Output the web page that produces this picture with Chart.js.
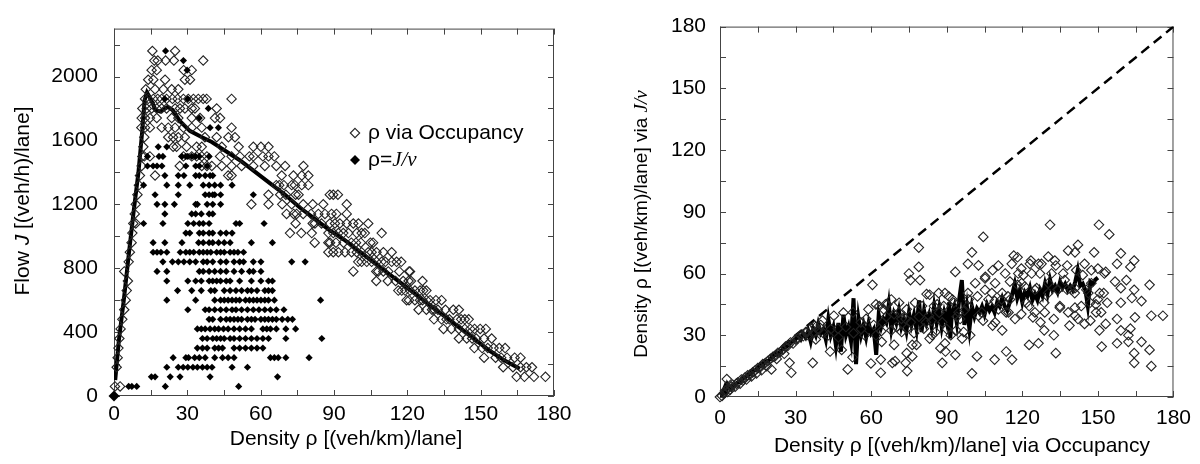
<!DOCTYPE html>
<html>
<head>
<meta charset="utf-8">
<script src="https://cdn.jsdelivr.net/npm/chart.js@4.4.0/dist/chart.umd.min.js"></script>
<style>
  html, body { margin: 0; padding: 0; background: #fff; }
  #wrap { position: relative; width: 1200px; height: 464px; }
  canvas { position: absolute; top: 0; }
  #flowChart { left: 0; }
  #densChart { left: 600px; }
</style>
</head>
<body>
<div id="wrap">
  <canvas id="flowChart" width="600" height="464"></canvas>
  <canvas id="densChart" width="600" height="464"></canvas>
</div>
<script>
// tick labels
const densityTicks = [0, 30, 60, 90, 120, 150, 180];
const flowTicks = [0, 400, 800, 1200, 1600, 2000];

// left panel: flow rows (veh/h/lane) with the densities found on each row
const occRows = [
  [2160, [15.7, 25]],
  [2100, [16.5, 17.9, 21.1, 24.5, 36.5]],
  [2040, [15.4, 17.5, 28.5, 31.8]],
  [1980, [14, 16.1, 20.9, 29, 31.1]],
  [1920, [13, 16.8, 20.2, 23.6, 26.3]],
  [1860, [12.7, 14, 16.1, 17.9, 19.5, 21.5, 23.9, 26, 28.4, 30.4, 32.5, 34.5, 36.5, 37.9, 48.1]],
  [1800, [11.6, 13.4, 15.4, 17.5, 19.5, 21.5, 25, 27, 29, 31.8, 33.1, 42]],
  [1740, [11.3, 12.7, 14.7, 17.5, 23.6, 26.3, 31.8, 35.2, 41.3, 43.4]],
  [1680, [11.2, 12.7, 14.7, 19.5, 22.2, 25, 28.4, 31.8, 35.9, 48.1]],
  [1620, [12.4, 22.2, 24.2, 26.3, 29, 37.2, 42, 46.8, 49.5]],
  [1560, [12, 24.2, 25.6, 29.7, 33.8, 35.9, 44.1, 51, 57, 60.1, 63.2]],
  [1500, [11.6, 12.4, 14.7, 28.4, 31.8, 33.8, 35.9, 38, 43.4, 48.1, 51.5, 55.4, 57, 60.9, 63.2, 65.6]],
  [1440, [11.3, 26.9, 35.9, 38, 40, 44.1, 48.1, 52.2, 57, 61.7, 66.4, 70, 77.5]],
  [1380, [10.6, 16.8, 46.7, 48.1, 68.6, 73.4, 76.8, 79.5]],
  [1320, [10.2, 66.4, 67.6, 69.5, 72.7, 74, 76.8, 79.5]],
  [1260, [9.6, 63.2, 68, 70.3, 74.3, 75.5, 88.3, 89.7, 91.6]],
  [1200, [8.9, 56.2, 63.2, 68.8, 72.7, 77.4, 81.3, 85.6, 95.2]],
  [1140, [8.5, 70.6, 73.5, 74.7, 77.4, 80.6, 83.6, 86.3, 89, 91, 95.2]],
  [1080, [7.9, 8.9, 74.3, 81.3, 82.2, 84.9, 88.3, 90.4, 92.4, 95.2, 97.9, 100, 104]],
  [1020, [7.5, 72, 76.6, 80.9, 87.7, 89.7, 91.8, 93.8, 95.9, 99.3, 101.3, 102.6, 109.5]],
  [960, [7.2, 82.1, 87.7, 88.4, 90.8, 93.9, 97.1, 99, 101, 104.9, 106]],
  [900, [6.5, 87.7, 89.7, 91.8, 94.5, 97.2, 99.3, 101.3, 104, 105.4, 107.4, 110.2, 113.6]],
  [840, [6, 99.9, 101.3, 103.4, 105.4, 107.4, 109.5, 111, 113.6, 115.6, 117.5]],
  [780, [4.2, 97.9, 107.3, 108.1, 110.2, 112.2, 116.7, 120.7, 121.1]],
  [720, [5.7, 107.3, 112, 115.2, 118.3, 120.5, 121.5, 126.2]],
  [660, [5.2, 116.3, 117.7, 119.1, 121.1, 123.1, 125.2, 126.5, 127.8]],
  [600, [4.8, 119.7, 120.7, 123.1, 125.2, 126.2, 127.9, 129.3, 131.7, 134]],
  [540, [4.2, 124.6, 127.8, 130.1, 131, 132.5, 135.6, 138.8, 141.1]],
  [480, [3.4, 130.9, 134, 136, 137.2, 140.3, 142, 143.5, 145.1]],
  [420, [2.7, 134.8, 138, 141.1, 143.5, 145.8, 147.5, 149.8, 152.1]],
  [360, [2.2, 141.1, 144.3, 146.5, 148.2, 151.4, 154.5]],
  [300, [1.8, 147.4, 150.6, 152.9, 155.3, 157.6, 160]],
  [240, [1.5, 151.4, 156.1, 158.4, 160.8, 163.9, 166.3]],
  [180, [1.1, 159.2, 163.2, 166.3, 168.7, 171]],
  [120, [164.7, 167.9, 171.8, 176.5]],
  [60, [0.4, 2.5]]
];

const jvRows = [
  [2160, [21.1]],
  [2100, [28.4]],
  [2040, [29.9]],
  [1860, [20.8, 30.2]],
  [1800, [38.6]],
  [1740, [34.9]],
  [1680, [39.3, 42.7]],
  [1560, [18.1, 21.6]],
  [1500, [13.7, 18.4, 20, 27.8, 29.4, 30.2, 31.8, 33.4, 34.9, 38.9]],
  [1440, [13.7, 16, 17.6, 19.6, 29.4, 33.4, 34.9, 38.1]],
  [1380, [20.8, 26.3, 28.6, 33.4, 34.9, 37.3, 39.3, 40.4]],
  [1320, [12.1, 21.6, 26.3, 31, 36.5, 38.9, 41.2, 43.6, 48.3]],
  [1260, [16.8, 26.3, 37.3, 38.9, 40.4, 41.2, 43.6, 57]],
  [1200, [17.6, 20.8, 24.7, 33.4, 34.1, 38.1, 40.4, 43.6]],
  [1140, [20.8, 31.8, 33.4, 35.7, 38.9, 40.4]],
  [1080, [12.1, 20, 30.2, 32.6, 34.9, 36.5, 38.9, 49.9, 51.4, 61.4]],
  [1020, [29.4, 31, 34.9, 36.5, 38.9, 40.4, 43.6, 45.9, 48.3]],
  [960, [16, 20.8, 27.8, 34.6, 36.5, 38.9, 40.4, 42.8, 45.1, 47.5, 56.2, 64.8]],
  [900, [16, 17.6, 19.2, 21.6, 27.1, 29.4, 31, 32.6, 34.9, 36.5, 38.1, 39.6, 42, 43.6, 45.1, 47.5, 49.1, 50.7, 53]],
  [840, [20, 23.9, 26.3, 28.6, 31, 33.4, 36.5, 38.1, 40.4, 43.6, 45.9, 49.1, 51.4, 53, 57, 60.1, 72.7, 78.2]],
  [780, [17.6, 21.6, 34.9, 36.5, 38.9, 41.2, 43.6, 45.9, 49.1, 52.2, 55.4, 57, 60.1]],
  [720, [21.6, 30.2, 33.4, 35.7, 38.9, 40.4, 42, 43.6, 45.9, 47.5, 51.4, 56.2, 60.1, 63.2, 64.8]],
  [660, [26, 31.8, 35.7, 39.6, 41.2, 45.1, 47.5, 49.9, 52.2, 54.6, 56.2, 58.5, 61.7, 63.2, 64.8]],
  [600, [21.6, 33.4, 41.2, 43.6, 45.1, 46.7, 48.3, 49.9, 51.4, 53.8, 55.4, 57, 58.5, 60.1, 61.7, 63.2, 65.6, 84.5]],
  [540, [30.2, 37.3, 38.9, 41.2, 43.6, 45.9, 48.3, 49.9, 52.2, 54.6, 57, 59.3, 61.7, 64, 66.4, 69.5]],
  [480, [38.9, 40.4, 43.6, 45.9, 47.5, 49.1, 50.7, 52.2, 54.6, 56.2, 57.7, 60.1, 61.7, 63.2, 64.8, 66.4, 68.8, 71.1, 73]],
  [420, [34.1, 35.7, 37.3, 39.3, 41.2, 42.8, 44.8, 46.7, 49.1, 51.4, 53.8, 56.2, 60.9, 62.5, 64, 66.4, 70.3, 74.3]],
  [360, [36.2, 38.1, 40.4, 42, 43.6, 45.1, 47.5, 49.1, 51.4, 53.8, 56.2, 58.5, 60.9, 63.2, 70.3, 85]],
  [300, [34.1, 36.2, 38.1, 41.2, 42.8, 44.4, 49.1, 51.4, 53.8, 56.2, 58.5, 60.9]],
  [240, [24.2, 29.4, 30.5, 33, 34.9, 37.3, 41.2, 44.4, 46.7, 49.1, 64, 65.6, 67.2, 70.3, 79.8]],
  [180, [21.6, 26.3, 28.3, 30.2, 32.3, 34.1, 36.2, 38.1, 40.1, 48.3, 54.6]],
  [120, [15.3, 16.8, 23, 27, 39.3, 66.9]],
  [60, [6, 7.3, 9.3, 21, 51]]
];

const originPoint = [[0, 0]];

// averaged flow-density curve
const fdCurve = [
  [0.5, 100], [2, 350], [4, 600], [6, 880], [8, 1150], [10, 1400], [11.5, 1650], [12.5, 1850],
  [13.5, 1900], [15, 1860], [17, 1790], [19, 1780], [22, 1810], [24, 1790], [27, 1720], [31, 1660],
  [36, 1620], [40, 1590], [44, 1550], [48, 1510], [52, 1470], [58, 1400], [64, 1330], [70, 1260],
  [76, 1180], [82, 1110], [88, 1040], [94, 980], [100, 910], [106, 840], [112, 770], [118, 700],
  [124, 630], [130, 560], [136, 490], [142, 420], [148, 350], [154, 280], [160, 220], [166, 170]
];

// right panel: density via occupancy vs density via J/v
const occVsJv = [
  [0, 0], [0.8, 0.5], [1.5, 1.8], [2, 3], [2.7, 8.7], [3, 2.5], [3.5, 4.5], [4, 3.5], [4.5, 5], [5, 6],
  [6, 5], [6.5, 6.5], [7, 7], [8, 6.5], [8.5, 8.5], [9, 8], [10, 9.5], [10.5, 8.5], [11, 10.5], [12, 11],
  [12.5, 10], [13, 12], [14, 13], [14.5, 11.5], [15, 14], [16, 14.5], [16.5, 13], [17, 16], [18, 16.5],
  [18.5, 15], [19, 17.5], [20, 18.5], [20.4, 13.4], [21, 19.5], [22, 20], [22.5, 18.5], [23, 21.5],
  [24, 22], [25, 23], [25.5, 21], [26, 24.5], [27, 25], [27.6, 16.6], [28.3, 11.8], [28, 26.5], [29, 26],
  [30, 28], [31, 28.5], [32, 30], [33, 29.5], [34, 31.5], [35, 30], [36, 33.5], [37, 31], [38, 34],
  [39, 32.5], [40, 35],
  [36.8, 16.6], [40.7, 37.1], [37.6, 34.7], [34.6, 31.6], [43, 30], [45.2, 39.5], [46.8, 33.2], [49, 41],
  [43.7, 22.1], [48.3, 22.9], [50.7, 13.4], [52.6, 19.3], [52.8, 41.1], [55.9, 36.3], [57.4, 30],
  [58.9, 42.6], [59.9, 16.3], [60.5, 54.5], [61.9, 45], [61.9, 30], [63.8, 11.8], [63.8, 18.2],
  [64.2, 26.8], [65, 42.6], [65.7, 45], [68, 47.4], [68, 32.4], [68.4, 16.6], [69.1, 25.3], [69.5, 17.4],
  [71.1, 45.8], [73.7, 16.6], [74.1, 42.6], [74.1, 33.2], [74.1, 21.3], [74.3, 12.6], [75, 60],
  [75.6, 56.8], [76.3, 19.7], [78, 25.3], [78.9, 72.6], [78.9, 63.2], [79.4, 56.8], [80.2, 44.2],
  [81.7, 36.3], [82, 50], [83.2, 28.4], [83.2, 49.7], [85.5, 31.6], [86.2, 45], [87.5, 23.7],
  [88.2, 16.6], [89.3, 50.5], [89.3, 26.1], [89.5, 22.1], [91.6, 30], [92.3, 47.4], [93.4, 20.5],
  [93.4, 60.8], [93.8, 32.4], [95.3, 37.9], [96.1, 28.4], [98.4, 64.7], [98.4, 50.5], [98.4, 44.2],
  [100, 11.5], [100, 70.3], [102, 19.7], [102.2, 48.9], [102.6, 64], [104.5, 77.8], [104.4, 37.1],
  [105.2, 57.6], [105.2, 52.1], [108.2, 61.6], [108.2, 34.7], [109, 18.2], [109, 46.6], [110.5, 63.9],
  [112, 50.5], [112, 32.4], [113.6, 41.1], [113.6, 22.1], [114.3, 48.9], [115.1, 56.1], [115.9, 18.2],
  [116.6, 68.7], [118.1, 67.9], [118.1, 54.5], [119.6, 62.4], [119.6, 40.3], [120.4, 59.2], [122.7, 44.2],
  [122.7, 25.3], [123.4, 66.3], [124.2, 38.7], [125.7, 52.9], [126.4, 64.7], [126.4, 26.1], [127.2, 36.3],
  [128.7, 45.8], [128.7, 32.4], [130.3, 68.2], [130.3, 50.5], [131, 83.7], [132.5, 37.9], [132.5, 30],
  [133.3, 63.9], [133.3, 21.3], [133.9, 52.1], [134.9, 43.4], [137.8, 63.9], [137.8, 52.1], [138.7, 34.7],
  [140.9, 70.3], [140.9, 52.9], [140.9, 43.4], [141, 39.5], [142.1, 73.9], [144, 59.2], [144.7, 35.5],
  [146.2, 50.5], [146.9, 45.8], [147, 37.1], [148.5, 70.3], [149.2, 45], [150, 62.4], [150.4, 83.7],
  [150.6, 32.4], [151.5, 24.5], [152.3, 50.5], [153.1, 60.8], [153.1, 35.5], [153.7, 45.8], [154.5, 79],
  [156.8, 56.1], [157.6, 64.7], [157.6, 37.9], [157.6, 26.1], [159.1, 69.8], [159.1, 52.9], [159.1, 45.8],
  [159.1, 32.4], [161.3, 56.8], [162.1, 30], [162.1, 26.8], [162.9, 63.2], [162.9, 33.2], [163.5, 48.1],
  [164.4, 66.3], [164.4, 52.1], [164.4, 21.3], [164.4, 16.6], [164.7, 38.7], [167.3, 46.6], [167.3, 26.8],
  [170.5, 54.5], [170.5, 22.9], [171.2, 39.5], [171.2, 15], [175.8, 39.5],
  [63.2, 44.2], [71, 41], [72.1, 31.6], [75.7, 36.3], [76.3, 25.3], [82.9, 39.5], [84.2, 30], [86.8, 50.5],
  [88.8, 44.2], [92.8, 45.8], [99.3, 30], [102.6, 39.5], [105.3, 58.4], [107.9, 50.5], [109.2, 36.3],
  [111.8, 47.4], [114.5, 41.1], [115.8, 64.7], [118.4, 60], [121, 53.7], [123.7, 60], [125, 41.1],
  [127.6, 64.7], [131.6, 60], [134.2, 52.1], [136.8, 56.8], [138.2, 41.1], [140.8, 50.5], [142.1, 37.9],
  [144.7, 64.7], [147.4, 55.3], [150, 47.4], [151.3, 41.1],
  [64.5, 36.3], [66.4, 45], [69.1, 40.3], [73.7, 37.9], [77.4, 45.8], [80.9, 33.2], [84.9, 44.2],
  [88.2, 36.3], [90.8, 48.9], [94.7, 41.1], [96.7, 31.6], [98.7, 47.4], [101.3, 55.3], [103.9, 41.1],
  [106.6, 47.4], [109.2, 55.3], [110.5, 42.6], [113.2, 60], [115.1, 47.4], [117.1, 37.9], [119.7, 55.3],
  [121.7, 45.8], [123, 64.7], [125, 52.1], [127, 60], [128.9, 41.1], [130.3, 55.3], [132.9, 66.3],
  [134.9, 44.2], [136.2, 60], [138.2, 71.1], [139.5, 52.1], [141.4, 61.6], [143.4, 44.2], [145.4, 52.1],
  [147.4, 61.6], [149.3, 41.1], [150.7, 50.5], [152.6, 60],
  [38, 28], [41, 31], [44, 33], [47, 29], [50, 34], [53, 31], [56, 33], [58, 38], [61, 35], [64, 32],
  [66, 39], [70, 34], [72, 38], [77, 31], [79, 39], [84, 37], [87, 41], [90, 33], [94, 39], [97, 42]
];

// binned mean of J/v density against occupancy density
const meanCurve = [
  [0, 0], [1, 2], [2, 5], [2.5, 3], [3, 6], [4, 4], [5, 5.5], [6, 6], [7, 7], [8, 7.5], [9, 9], [10, 9.5],
  [11, 10.5], [12, 11], [13, 12.5], [14, 13], [15, 14], [16, 15], [17, 15.5], [18, 17], [19, 17.5],
  [20, 18.5], [21, 19.5], [22, 20.5], [23, 21], [24, 22], [25, 23.5], [26, 24], [27, 25], [28, 26.5],
  [29, 27], [30, 28], [31, 29.5], [32, 28], [33, 31], [34, 29], [35, 32], [36, 27], [37, 33], [38, 30],
  [39, 35.5], [40, 31], [41, 33], [42, 28], [43, 37.9], [44, 30], [45, 34], [46, 25], [47, 36], [48, 22],
  [49, 40], [50, 30], [51, 34], [52, 27], [53, 48], [54, 16], [55, 38], [56, 30], [57, 35], [58, 29],
  [59, 36], [60, 31], [61, 33], [62, 20.5], [63, 40], [64, 34], [65, 38], [66, 36], [67, 45], [68, 33],
  [69, 40], [70, 36], [71, 42], [72, 34], [73, 38], [74, 32], [75, 41], [76, 35], [77, 40], [78, 33],
  [79, 47], [80, 31.6], [81, 42], [82, 36], [83, 40], [84, 34], [85, 44], [86, 36], [87, 43], [88, 34],
  [89, 41], [90, 36], [91, 46], [91.4, 28.4], [92, 40], [93, 44], [94, 36], [95, 48], [96, 56.8], [97, 35],
  [98, 44], [99, 33], [100, 44], [101, 39], [102, 43], [103, 41], [104, 44], [105, 40], [106, 45],
  [107, 42], [108, 44], [109, 41], [110, 46], [111, 44], [112, 48], [113, 44], [114, 42], [115, 46],
  [116, 50], [117, 55], [118, 48], [119, 52], [120, 46], [121, 51], [122, 49], [123, 53], [124, 47],
  [125, 50], [126, 47], [127, 52], [128, 49], [129, 55], [130, 50], [131, 57], [132, 52], [133, 54],
  [134, 51], [135, 56], [136, 53], [137, 55], [138, 52], [139, 54], [140, 52], [141, 56], [142, 61.6],
  [143, 54], [144, 55], [145, 52], [146, 44.2], [147, 56], [148, 55], [149, 57], [150, 58]
];

const diagonal = [[0, 0], [180, 180]];

const SANS = "'Liberation Sans', Arial, Helvetica, sans-serif";
const F_TXT = "21px " + SANS;
const F_ITS = "italic 21px " + SANS;
const F_SER = "italic 21px 'Liberation Serif', 'Times New Roman', serif";
const F_SER_S = "italic 19px 'Liberation Serif', 'Times New Roman', serif";
const F_TXT_S = "19px " + SANS;

Chart.defaults.font.family = SANS;
Chart.defaults.font.size = 21;
Chart.defaults.color = '#000';

const toXY = pts => pts.map(p => ({ x: p[0], y: p[1] }));
const rowsToXY = rows => rows.flatMap(([j, rs]) => rs.map(r => ({ x: r, y: j })));

function diamond(ctx, x, y, r, filled) {
    ctx.beginPath();
    ctx.moveTo(x, y - r);
    ctx.lineTo(x + r, y);
    ctx.lineTo(x, y + r);
    ctx.lineTo(x - r, y);
    ctx.closePath();
    if (filled) ctx.fill(); else ctx.stroke();
}

function drawRuns(ctx, runs, x, y, rot, centered) {
    ctx.save();
    ctx.translate(x, y);
    ctx.rotate(rot);
    let total = 0;
    runs.forEach(([t, f]) => { ctx.font = f; total += ctx.measureText(t).width; });
    let cx = centered ? -total / 2 : 0;
    ctx.textBaseline = 'middle';
    ctx.textAlign = 'left';
    ctx.fillStyle = '#000';
    runs.forEach(([t, f]) => {
        ctx.font = f;
        ctx.fillText(t, cx, 0);
        cx += ctx.measureText(t).width;
    });
    ctx.restore();
}

// box round the plot and inward ticks on all four sides
const frame = {
    id: 'frame',
    beforeDatasetsDraw(chart, args, o) {
        const { ctx, chartArea: a, scales: { x, y } } = chart;
        ctx.save();
        ctx.strokeStyle = '#444';
        ctx.lineWidth = 1;
        ctx.strokeRect(a.left + 0.5, a.top + 0.5, a.right - a.left - 1, a.bottom - a.top - 1);
        ctx.beginPath();
        for (let v = x.min; v <= x.max; v += o.xStep) {
            const p = Math.round(x.getPixelForValue(v)) + 0.5;
            ctx.moveTo(p, a.bottom); ctx.lineTo(p, a.bottom - o.len);
            ctx.moveTo(p, a.top); ctx.lineTo(p, a.top + o.len);
        }
        for (let v = y.min; v <= y.max; v += o.yStep) {
            const p = Math.round(y.getPixelForValue(v)) + 0.5;
            ctx.moveTo(a.left, p); ctx.lineTo(a.left + o.len, p);
            ctx.moveTo(a.right, p); ctx.lineTo(a.right - o.len, p);
        }
        ctx.stroke();
        ctx.restore();
    },
    afterDraw(chart, args, o) {
        const ctx = chart.ctx;
        (o.titles || []).forEach(t => drawRuns(ctx, t.runs, t.x, t.y, t.rot, true));
        (o.legend || []).forEach(l => {
            ctx.save();
            ctx.strokeStyle = '#222';
            ctx.fillStyle = '#000';
            ctx.lineWidth = 1.1;
            diamond(ctx, l.x, l.y, l.r, l.filled);
            ctx.restore();
            drawRuns(ctx, l.runs, l.x + 13, l.y, 0, false);
        });
    }
};

function axes(yMax, yTicks, yWidth, yPad, xHeight, xPad) {
    return {
        x: {
            type: 'linear', min: 0, max: 180,
            afterBuildTicks: s => { s.ticks = densityTicks.map(v => ({ value: v })); },
            ticks: { padding: xPad, maxRotation: 0, callback: v => String(v) },
            grid: { display: false, drawTicks: false },
            border: { display: false },
            afterFit: s => { s.height = xHeight; }
        },
        y: {
            type: 'linear', min: 0, max: yMax,
            afterBuildTicks: s => { s.ticks = yTicks.map(v => ({ value: v })); },
            ticks: { padding: yPad, callback: v => String(v) },
            grid: { display: false, drawTicks: false },
            border: { display: false },
            afterFit: s => { s.width = yWidth; }
        }
    };
}

new Chart(document.getElementById('flowChart'), {
    type: 'scatter',
    data: {
        datasets: [
            {
                label: 'ρ=J/v', data: rowsToXY(jvRows), pointStyle: 'rectRot', pointRadius: 3.6,
                backgroundColor: '#000', borderColor: '#000', borderWidth: 0, clip: false
            },
            {
                label: 'ρ via Occupancy', data: rowsToXY(occRows), pointStyle: 'rectRot', pointRadius: 4.7,
                backgroundColor: 'rgba(0,0,0,0)', borderColor: '#222', borderWidth: 1.1, clip: false
            },
            {
                type: 'line', label: 'mean', data: toXY(fdCurve), borderColor: '#000', borderWidth: 4,
                pointRadius: 0, tension: 0, fill: false
            },
            {
                label: 'origin', data: toXY(originPoint), pointStyle: 'rectRot', pointRadius: 5.5,
                backgroundColor: '#000', borderColor: '#000', borderWidth: 0, clip: false
            }
        ]
    },
    options: {
        responsive: false, animation: false, devicePixelRatio: 1, events: [],
        layout: { padding: { top: 26, right: 46, left: 0, bottom: 0 } },
        scales: axes(2300, flowTicks, 114, 16, 68, 6),
        plugins: {
            legend: { display: false }, tooltip: { enabled: false },
            frame: {
                xStep: 15, yStep: 200, len: 6,
                titles: [
                    { runs: [['Density ρ [(veh/km)/lane]', F_TXT]], x: 346, y: 439, rot: 0 },
                    { runs: [['Flow ', F_TXT], ['J', F_ITS], [' [(veh/h)/lane]', F_TXT]], x: 23, y: 201, rot: -Math.PI / 2 }
                ],
                legend: [
                    { x: 355, y: 133, r: 4.7, filled: false, runs: [['ρ via Occupancy', F_TXT]] },
                    { x: 355, y: 160, r: 5, filled: true, runs: [['ρ=', F_TXT], ['J', F_SER], ['/', F_SER], ['v', F_SER]] }
                ]
            }
        }
    },
    plugins: [frame]
});

new Chart(document.getElementById('densChart'), {
    type: 'scatter',
    data: {
        datasets: [
            {
                label: 'ρ', data: toXY(occVsJv), pointStyle: 'rectRot', pointRadius: 4.8,
                backgroundColor: 'rgba(0,0,0,0)', borderColor: '#222', borderWidth: 1.1, clip: false
            },
            {
                type: 'line', label: 'mean', data: toXY(meanCurve), borderColor: '#000', borderWidth: 4,
                pointRadius: 0, tension: 0, fill: false
            },
            {
                type: 'line', label: 'diagonal', data: toXY(diagonal), borderColor: '#000', borderWidth: 2.5,
                borderDash: [10, 6], pointRadius: 0, fill: false
            }
        ]
    },
    options: {
        responsive: false, animation: false, devicePixelRatio: 1, events: [],
        layout: { padding: { top: 16, right: 24, left: 0, bottom: 0 } },
        scales: axes(180, densityTicks, 120, 14, 67, 9),
        plugins: {
            legend: { display: false }, tooltip: { enabled: false },
            frame: {
                xStep: 15, yStep: 15, len: 6,
                titles: [
                    { runs: [['Density ρ [(veh/km)/lane] via Occupancy', F_TXT]], x: 362, y: 446, rot: 0 },
                    { runs: [['Density ρ [(veh/km)/lane] via ', F_TXT_S], ['J', F_SER_S], ['/', F_SER_S], ['v', F_SER_S]], x: 42, y: 224, rot: -Math.PI / 2 }
                ]
            }
        }
    },
    plugins: [frame]
});
</script>
</body>
</html>
